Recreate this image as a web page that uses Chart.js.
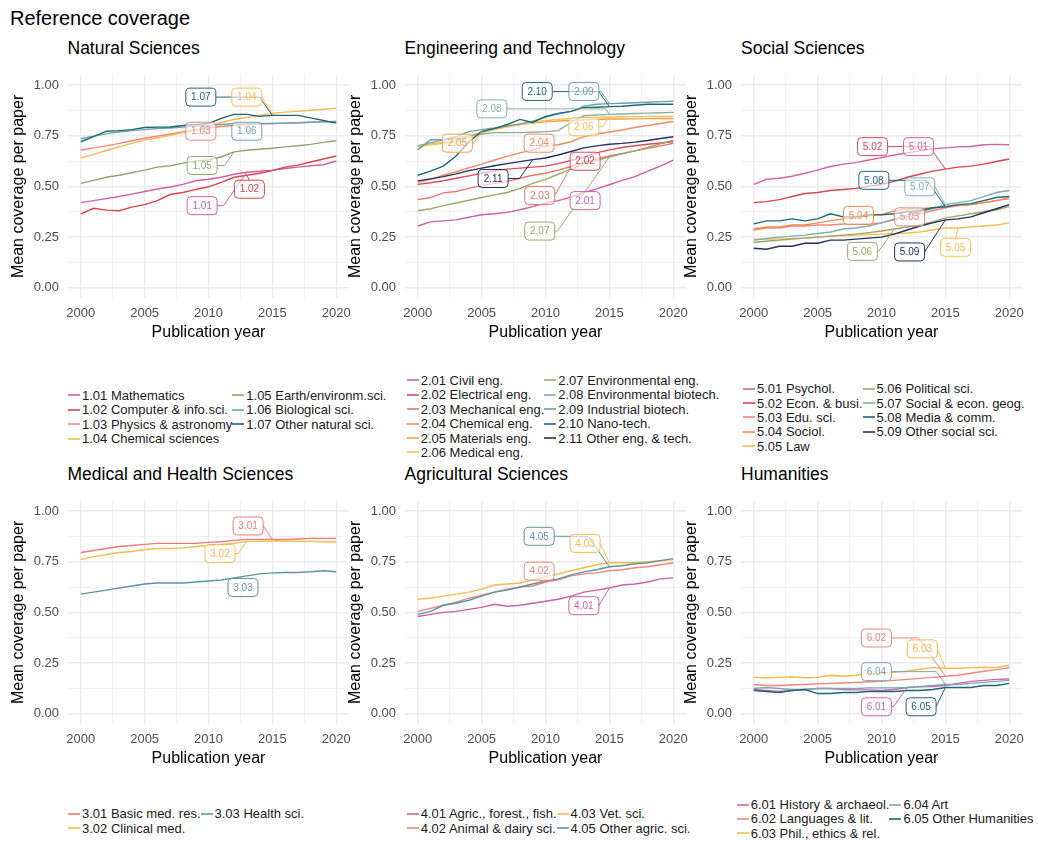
<!DOCTYPE html>
<html>
<head>
<meta charset="utf-8">
<script src="https://cdn.jsdelivr.net/npm/chart.js@4.4.1/dist/chart.umd.min.js"></script>
<style>
  body { margin: 0; background: #fff; width: 1038px; height: 842px; overflow: hidden; position: relative;
         font-family: "Liberation Sans", Arial, sans-serif; }
  .abs { position: absolute; }
  #mainTitle { left: 10px; top: 8px; font-size: 20px; line-height: 20px; color: #000; }
  .ptitle { font-size: 17.5px; line-height: 18px; color: #000; white-space: nowrap; }
  .legend { display: grid; grid-auto-flow: column; font-size: 13px; color: #1a1a1a; }
  .legend div { display: flex; align-items: center; white-space: nowrap; height: 14.4px; }
  .legend svg { display: block; margin-right: 2px; }
  canvas { position: absolute; }
</style>
</head>
<body>
<div id="mainTitle" class="abs">Reference coverage</div>
<script>
// ---- shared axis data ----
const years = [2000, 2001, 2002, 2003, 2004, 2005, 2006, 2007, 2008, 2009, 2010,
               2011, 2012, 2013, 2014, 2015, 2016, 2017, 2018, 2019, 2020];
const xTicks = [2000, 2002.5, 2005, 2007.5, 2010, 2012.5, 2015, 2017.5, 2020];
const yTicks = [0, 0.125, 0.25, 0.375, 0.5, 0.625, 0.75, 0.875, 1];

// ---- Natural Sciences ----
const natNames = ['1.01 Mathematics', '1.02 Computer & info.sci.', '1.03 Physics & astronomy',
                  '1.04 Chemical sciences', '1.05 Earth/environm.sci.', '1.06 Biological sci.', '1.07 Other natural sci.'];
const nat101 = [0.420,0.430,0.440,0.450,0.462,0.475,0.487,0.497,0.510,0.528,0.535,0.545,0.560,0.570,0.575,0.580,0.588,0.595,0.602,0.607,0.625];
const nat102 = [0.365,0.392,0.383,0.380,0.398,0.410,0.430,0.460,0.470,0.485,0.498,0.520,0.545,0.555,0.565,0.578,0.595,0.605,0.620,0.635,0.650];
const nat103 = [0.678,0.690,0.700,0.712,0.725,0.737,0.748,0.758,0.768,0.778,0.788,0.795,0.800,0.805,0.808,0.810,0.812,0.814,0.816,0.818,0.820];
const nat104 = [0.640,0.658,0.677,0.695,0.712,0.728,0.740,0.752,0.765,0.780,0.795,0.815,0.830,0.840,0.850,0.860,0.866,0.870,0.875,0.880,0.885];
const nat105 = [0.515,0.530,0.545,0.555,0.567,0.580,0.595,0.602,0.615,0.625,0.630,0.645,0.670,0.678,0.683,0.688,0.695,0.700,0.707,0.717,0.725];
const nat106 = [0.735,0.748,0.760,0.768,0.775,0.780,0.785,0.788,0.792,0.797,0.800,0.805,0.810,0.810,0.810,0.810,0.812,0.814,0.816,0.818,0.820];
const nat107 = [0.720,0.745,0.772,0.775,0.780,0.790,0.792,0.793,0.800,0.805,0.810,0.835,0.855,0.855,0.845,0.850,0.850,0.850,0.838,0.825,0.812];
const natColors = ['#cf5fa8', '#d9454f', '#f0857d', '#f8b94d', '#8ea66c', '#6ea3ad', '#1e6576'];
const natTags = [
  { idx: 6, at: [2009.4, 0.94], to: 2015 }, { idx: 3, at: [2013.0, 0.94], to: 2015 },
  { idx: 2, at: [2009.4, 0.772], to: 2010 }, { idx: 5, at: [2013.0, 0.772], to: 2014 },
  { idx: 4, at: [2009.5, 0.603], to: 2012 }, { idx: 1, at: [2013.2, 0.486], to: 2013 },
  { idx: 0, at: [2009.5, 0.405], to: 2013 }
];

// ---- Engineering and Technology ----
const engNames = ['2.01 Civil eng.', '2.02 Electrical eng.', '2.03 Mechanical eng.', '2.04 Chemical eng.',
                  '2.05 Materials eng.', '2.06 Medical eng.', '2.07 Environmental eng.', '2.08 Environmental biotech.',
                  '2.09 Industrial biotech.', '2.10 Nano-tech.', '2.11 Other eng. & tech.'];
const eng201 = [0.305,0.325,0.330,0.335,0.348,0.360,0.365,0.372,0.385,0.400,0.418,0.430,0.447,0.470,0.488,0.508,0.530,0.548,0.575,0.600,0.630];
const eng202 = [0.510,0.518,0.528,0.540,0.552,0.565,0.577,0.585,0.590,0.595,0.600,0.612,0.628,0.645,0.665,0.680,0.692,0.700,0.708,0.714,0.720];
const eng203 = [0.435,0.445,0.468,0.475,0.490,0.505,0.515,0.525,0.540,0.555,0.565,0.580,0.598,0.618,0.635,0.650,0.662,0.675,0.688,0.700,0.712];
const eng204 = [0.520,0.535,0.555,0.572,0.592,0.610,0.630,0.648,0.665,0.680,0.700,0.705,0.720,0.745,0.758,0.768,0.778,0.790,0.800,0.810,0.820];
const eng205 = [0.700,0.708,0.715,0.725,0.745,0.770,0.785,0.795,0.805,0.812,0.818,0.822,0.825,0.828,0.830,0.832,0.832,0.833,0.834,0.835,0.835];
const eng206 = [0.695,0.705,0.712,0.720,0.740,0.765,0.780,0.792,0.805,0.815,0.825,0.830,0.835,0.838,0.840,0.842,0.843,0.844,0.845,0.845,0.845];
const eng207 = [0.380,0.390,0.405,0.418,0.432,0.445,0.458,0.470,0.490,0.515,0.535,0.560,0.585,0.610,0.628,0.645,0.660,0.675,0.692,0.710,0.728];
const eng208 = [0.700,0.715,0.728,0.738,0.750,0.758,0.765,0.765,0.765,0.767,0.770,0.775,0.815,0.848,0.852,0.855,0.857,0.859,0.861,0.863,0.865];
const eng209 = [0.680,0.730,0.730,0.745,0.770,0.780,0.788,0.798,0.808,0.822,0.840,0.858,0.870,0.895,0.905,0.908,0.910,0.912,0.915,0.918,0.920];
const eng210 = [0.555,0.575,0.600,0.650,0.720,0.770,0.785,0.805,0.830,0.815,0.845,0.860,0.870,0.888,0.890,0.893,0.895,0.900,0.905,0.905,0.905];
const eng211 = [0.527,0.537,0.548,0.562,0.578,0.590,0.602,0.612,0.622,0.632,0.640,0.655,0.672,0.690,0.700,0.708,0.712,0.718,0.726,0.736,0.745];
const engColors = ['#cf5fa8', '#dc4a5a', '#ec7371', '#f28a62', '#f5a042', '#f8c153',
                   '#9aa968', '#88b0a0', '#6aa0ab', '#1f6677', '#233060'];
const engTags = [
  { idx: 9, at: [2009.35, 0.968], to: 2015 }, { idx: 8, at: [2013.0, 0.968], to: 2015 },
  { idx: 7, at: [2005.8, 0.882], to: 2015 }, { idx: 5, at: [2013.0, 0.794], to: 2015 },
  { idx: 4, at: [2003.1, 0.713], to: 2005 }, { idx: 3, at: [2009.5, 0.713], to: 2010 },
  { idx: 10, at: [2005.9, 0.539], to: 2009 }, { idx: 1, at: [2013.1, 0.624], to: 2013 },
  { idx: 2, at: [2009.55, 0.455], to: 2012 }, { idx: 0, at: [2013.1, 0.43], to: 2013 },
  { idx: 6, at: [2009.55, 0.28], to: 2015 }
];

// ---- Social Sciences ----
const socNames = ['5.01 Psychol.', '5.02 Econ. & busi.', '5.03 Edu. sci.', '5.04 Sociol.', '5.05 Law',
                  '5.06 Political sci.', '5.07 Social & econ. geog.', '5.08 Media & comm.', '5.09 Other social sci.'];
const soc501 = [0.510,0.535,0.540,0.550,0.565,0.580,0.598,0.610,0.617,0.630,0.642,0.655,0.665,0.675,0.685,0.690,0.695,0.697,0.705,0.707,0.705];
const soc502 = [0.420,0.425,0.435,0.450,0.465,0.470,0.480,0.485,0.490,0.500,0.510,0.525,0.545,0.560,0.575,0.585,0.595,0.600,0.610,0.623,0.635];
const soc503 = [0.285,0.295,0.295,0.305,0.305,0.310,0.310,0.315,0.315,0.315,0.320,0.335,0.350,0.365,0.380,0.395,0.405,0.410,0.420,0.430,0.445];
const soc504 = [0.290,0.300,0.300,0.310,0.310,0.320,0.330,0.340,0.350,0.355,0.360,0.380,0.388,0.390,0.395,0.400,0.405,0.410,0.420,0.430,0.440];
const soc505 = [0.240,0.240,0.240,0.243,0.245,0.250,0.255,0.257,0.260,0.263,0.265,0.268,0.270,0.275,0.285,0.295,0.295,0.300,0.305,0.310,0.320];
const soc506 = [0.225,0.230,0.235,0.240,0.245,0.250,0.255,0.260,0.265,0.272,0.280,0.290,0.300,0.310,0.325,0.345,0.355,0.365,0.375,0.385,0.400];
const soc507 = [0.235,0.243,0.250,0.255,0.260,0.268,0.275,0.290,0.295,0.305,0.320,0.340,0.360,0.375,0.390,0.410,0.420,0.430,0.450,0.470,0.480];
const soc508 = [0.315,0.330,0.330,0.340,0.330,0.340,0.365,0.350,0.350,0.360,0.360,0.365,0.375,0.380,0.395,0.400,0.410,0.415,0.430,0.445,0.450];
const soc509 = [0.195,0.190,0.205,0.205,0.220,0.220,0.235,0.235,0.240,0.245,0.250,0.265,0.285,0.305,0.320,0.335,0.340,0.350,0.370,0.390,0.410];
const socColors = ['#d062aa', '#da4450', '#f18583', '#f38c4b', '#f8bd4f', '#95a86c', '#7eaeb0', '#1f6677', '#23305e'];
const socTags = [
  { idx: 1, at: [2009.3, 0.696], to: 2015 }, { idx: 0, at: [2012.9, 0.696], to: 2013 },
  { idx: 7, at: [2009.4, 0.53], to: 2015 }, { idx: 6, at: [2013.0, 0.498], to: 2015 },
  { idx: 3, at: [2008.2, 0.357], to: 2010 }, { idx: 2, at: [2012.2, 0.35], to: 2012 },
  { idx: 5, at: [2008.5, 0.18], to: 2011 }, { idx: 8, at: [2012.2, 0.177], to: 2015 },
  { idx: 4, at: [2015.8, 0.20], to: 2016 }
];

// ---- Medical and Health Sciences ----
const medNames = ['3.01 Basic med. res.', '3.02 Clinical med.', '3.03 Health sci.'];
const med301 = [0.795,0.805,0.815,0.825,0.830,0.835,0.840,0.840,0.840,0.840,0.845,0.848,0.855,0.860,0.860,0.860,0.860,0.862,0.865,0.865,0.865];
const med302 = [0.760,0.775,0.785,0.795,0.800,0.810,0.815,0.815,0.818,0.825,0.830,0.835,0.840,0.850,0.850,0.852,0.852,0.850,0.850,0.848,0.847];
const med303 = [0.590,0.600,0.610,0.620,0.630,0.640,0.645,0.645,0.645,0.650,0.655,0.660,0.670,0.680,0.690,0.695,0.697,0.697,0.700,0.705,0.700];
const medColors = ['#ee7a78', '#f8b94d', '#5c95a0'];
const medTags = [
  { idx: 0, at: [2013.1, 0.926], to: 2015 }, { idx: 1, at: [2010.9, 0.79], to: 2013 },
  { idx: 2, at: [2012.7, 0.623], to: 2012 }
];

// ---- Agricultural Sciences ----
const agrNames = ['4.01 Agric., forest., fish.', '4.02 Animal & dairy sci.', '4.03 Vet. sci.', '4.05 Other agric. sci.'];
const agr401 = [0.480,0.490,0.500,0.505,0.515,0.525,0.540,0.530,0.535,0.545,0.555,0.565,0.580,0.600,0.610,0.620,0.635,0.640,0.650,0.665,0.670];
const agr402 = [0.505,0.520,0.535,0.550,0.570,0.585,0.600,0.615,0.625,0.630,0.650,0.660,0.680,0.690,0.695,0.705,0.710,0.720,0.725,0.735,0.745];
const agr403 = [0.565,0.570,0.580,0.590,0.600,0.615,0.635,0.640,0.645,0.660,0.675,0.690,0.705,0.720,0.735,0.745,0.745,0.745,0.750,0.755,0.760];
const agr405 = [0.490,0.505,0.535,0.545,0.560,0.580,0.600,0.610,0.625,0.640,0.655,0.665,0.685,0.700,0.710,0.725,0.730,0.740,0.745,0.755,0.765];
const agrColors = ['#cf5fa8', '#f0857d', '#f8b94d', '#5c95a0'];
const agrTags = [
  { idx: 3, at: [2009.5, 0.875], to: 2015 }, { idx: 2, at: [2013.1, 0.84], to: 2015 },
  { idx: 1, at: [2009.5, 0.703], to: 2010 }, { idx: 0, at: [2013.0, 0.533], to: 2015 }
];

// ---- Humanities ----
const humNames = ['6.01 History & archaeol.', '6.02 Languages & lit.', '6.03 Phil., ethics & rel.', '6.04 Art', '6.05 Other Humanities'];
const hum601 = [0.120,0.115,0.110,0.115,0.120,0.125,0.125,0.120,0.118,0.118,0.115,0.120,0.130,0.133,0.135,0.140,0.150,0.160,0.165,0.170,0.172];
const hum602 = [0.145,0.140,0.140,0.142,0.145,0.148,0.150,0.152,0.155,0.158,0.160,0.165,0.170,0.175,0.180,0.185,0.190,0.200,0.210,0.218,0.228];
const hum603 = [0.180,0.178,0.180,0.183,0.178,0.180,0.190,0.185,0.190,0.200,0.200,0.205,0.210,0.220,0.228,0.225,0.225,0.228,0.230,0.228,0.240];
const hum604 = [0.125,0.130,0.125,0.120,0.120,0.125,0.125,0.125,0.125,0.128,0.128,0.128,0.130,0.135,0.140,0.145,0.145,0.150,0.155,0.160,0.165];
const hum605 = [0.115,0.110,0.105,0.115,0.120,0.100,0.100,0.105,0.105,0.110,0.110,0.110,0.115,0.115,0.120,0.130,0.130,0.130,0.140,0.140,0.150];
const humColors = ['#d062aa', '#f0857d', '#f8b94d', '#7aa8b0', '#1e6576'];
const humTags = [
  { idx: 1, at: [2009.6, 0.374], to: 2015 }, { idx: 2, at: [2013.2, 0.32], to: 2015 },
  { idx: 3, at: [2009.6, 0.208], to: 2015 }, { idx: 0, at: [2009.6, 0.035], to: 2012 },
  { idx: 4, at: [2013.1, 0.035], to: 2015 }
];

// ---- layout ----
const FONT = 'Liberation Sans';
const PLOT_W = 281, PLOT_H = 228, AX_Y = 60, AX_X = 50, PAD_T = 12, PAD_R = 10;

const panels = [
  { title: 'Natural Sciences', names: natNames, series: [nat101, nat102, nat103, nat104, nat105, nat106, nat107],
    colors: natColors, tags: natTags, px: 67.5, py: 70, lx: 68, ly: 417, rows: 4 },
  { title: 'Engineering and Technology', names: engNames,
    series: [eng201, eng202, eng203, eng204, eng205, eng206, eng207, eng208, eng209, eng210, eng211],
    colors: engColors, tags: engTags, px: 404.5, py: 70, lx: 406.7, ly: 416.5, rows: 6 },
  { title: 'Social Sciences', names: socNames,
    series: [soc501, soc502, soc503, soc504, soc505, soc506, soc507, soc508, soc509],
    colors: socColors, tags: socTags, px: 741, py: 70, lx: 743, ly: 417.5, rows: 5 },
  { title: 'Medical and Health Sciences', names: medNames, series: [med301, med302, med303],
    colors: medColors, tags: medTags, px: 67.5, py: 495.5, lx: 68, ly: 821, rows: 2 },
  { title: 'Agricultural Sciences', names: agrNames, series: [agr401, agr402, agr403, agr405],
    colors: agrColors, tags: agrTags, px: 404.5, py: 495.5, lx: 406.7, ly: 821, rows: 2 },
  { title: 'Humanities', names: humNames, series: [hum601, hum602, hum603, hum604, hum605],
    colors: humColors, tags: humTags, px: 741, py: 495.5, lx: 736.7, ly: 819, rows: 3 }
];

const isMajorX = v => Math.abs(v % 5) < 1e-9;
const isMajorY = v => Math.abs(v * 4 - Math.round(v * 4)) < 1e-9;

function boxPath(ctx, x, y, w, h, r) {
  ctx.beginPath();
  ctx.moveTo(x + r, y);
  ctx.lineTo(x + w - r, y); ctx.arcTo(x + w, y, x + w, y + r, r);
  ctx.lineTo(x + w, y + h - r); ctx.arcTo(x + w, y + h, x + w - r, y + h, r);
  ctx.lineTo(x + r, y + h); ctx.arcTo(x, y + h, x, y + h - r, r);
  ctx.lineTo(x, y + r); ctx.arcTo(x, y, x + r, y, r);
  ctx.closePath();
}

// boxed labels with elbow leaders, in the spirit of ggrepel
const tagPlugin = {
  id: 'tags',
  afterDatasetsDraw(chart, args, opts) {
    const { ctx, scales: { x, y } } = chart;
    const w = 30, h = 18;
    const items = (opts.items || []).map(t => {
      const ds = chart.data.datasets[t.idx];
      const i = years.indexOf(t.to);
      return {
        code: ds.label.split(' ')[0], color: ds.borderColor,
        tx: x.getPixelForValue(t.to), ty: y.getPixelForValue(ds.data[i].y),
        cx: x.getPixelForValue(t.at[0]), cy: y.getPixelForValue(t.at[1])
      };
    });
    ctx.save();
    // segments first
    items.forEach(it => {
      const dx = it.tx - it.cx, dy = it.ty - it.cy;
      if (Math.abs(dx) <= w / 2 && Math.abs(dy) <= h / 2) return;
      ctx.strokeStyle = it.color;
      ctx.lineWidth = 1;
      ctx.beginPath();
      if (Math.abs(dx) > w / 2) {
        const s = Math.sign(dx);
        const sx = it.cx + s * w / 2;
        const ex = it.tx - s * Math.min(Math.abs(dy) * 0.7, Math.abs(it.tx - sx));
        ctx.moveTo(sx, it.cy); ctx.lineTo(ex, it.cy); ctx.lineTo(it.tx, it.ty);
      } else {
        ctx.moveTo(it.cx, it.cy + Math.sign(dy) * h / 2); ctx.lineTo(it.tx, it.ty);
      }
      ctx.stroke();
    });
    // then the boxes
    items.forEach(it => {
      boxPath(ctx, it.cx - w / 2, it.cy - h / 2, w, h, 4);
      ctx.fillStyle = 'rgba(255,255,255,0.6)';
      ctx.fill();
      ctx.strokeStyle = it.color;
      ctx.lineWidth = 1;
      ctx.stroke();
      ctx.fillStyle = it.color;
      ctx.font = '10px "' + FONT + '", Arial';
      ctx.textAlign = 'center';
      ctx.textBaseline = 'middle';
      ctx.fillText(it.code, it.cx, it.cy + 0.5);
    });
    ctx.restore();
  }
};

panels.forEach((p, k) => {
  // panel title
  const t = document.createElement('div');
  t.className = 'abs ptitle';
  t.style.left = p.px + 'px';
  t.style.top = (p.py < 200 ? 39 : 465) + 'px';
  t.textContent = p.title;
  document.body.appendChild(t);

  // canvas
  const cv = document.createElement('canvas');
  const cw = AX_Y + PLOT_W + PAD_R, ch = PAD_T + PLOT_H + AX_X;
  cv.width = cw; cv.height = ch;
  cv.style.left = Math.round(p.px - AX_Y) + 'px';
  cv.style.top = Math.round(p.py - PAD_T) + 'px';
  cv.style.width = cw + 'px'; cv.style.height = ch + 'px';
  document.body.appendChild(cv);

  const n = p.series.length;
  new Chart(cv.getContext('2d'), {
    type: 'line',
    data: {
      datasets: p.series.map((vals, i) => ({
        label: p.names[i],
        data: years.map((yr, j) => ({ x: yr, y: vals[j] })),
        borderColor: p.colors[i],
        backgroundColor: p.colors[i],
        borderWidth: 1.4,
        pointRadius: 0,
        tension: 0,
        order: n - i
      }))
    },
    options: {
      responsive: false,
      animation: false,
      events: [],
      layout: { padding: { top: PAD_T, right: PAD_R, left: 0, bottom: 0 } },
      plugins: { legend: { display: false }, tooltip: { enabled: false }, tags: { items: p.tags } },
      scales: {
        x: {
          type: 'linear', min: 1999, max: 2021,
          afterBuildTicks: s => { s.ticks = xTicks.map(v => ({ value: v })); },
          afterFit: s => { s.height = AX_X; },
          border: { display: false },
          grid: { drawTicks: false, color: '#ebebeb', lineWidth: c => (c.tick && isMajorX(c.tick.value)) ? 1.4 : 0.7 },
          ticks: { autoSkip: false, maxRotation: 0, padding: 7.5, color: '#4d4d4d', font: { family: FONT, size: 13 },
                   callback: v => isMajorX(v) ? String(v) : '' },
          title: { display: true, text: 'Publication year', color: '#000', font: { family: FONT, size: 16 },
                   padding: { top: 0, bottom: 6 } }
        },
        y: {
          min: -0.05, max: 1.05,
          afterBuildTicks: s => { s.ticks = yTicks.map(v => ({ value: v })); },
          afterFit: s => { s.width = AX_Y; },
          border: { display: false },
          grid: { drawTicks: false, color: '#ebebeb', lineWidth: c => (c.tick && isMajorY(c.tick.value)) ? 1.4 : 0.7 },
          ticks: { padding: 9, color: '#4d4d4d', font: { family: FONT, size: 13 },
                   callback: v => isMajorY(v) ? v.toFixed(2) : '' },
          title: { display: true, text: 'Mean coverage per paper', color: '#000', font: { family: FONT, size: 16 },
                   padding: { top: 1, bottom: 0 } }
        }
      }
    },
    plugins: [tagPlugin]
  });

  // legend below the panel, filled column by column
  const lg = document.createElement('div');
  lg.className = 'abs legend';
  lg.style.gridTemplateRows = 'repeat(' + p.rows + ', 14.4px)';
  lg.style.left = p.lx + 'px';
  lg.style.top = (p.ly - p.rows * 14.4 / 2) + 'px';
  const svgNS = 'http://www.w3.org/2000/svg';
  p.names.forEach((nm, i) => {
    const it = document.createElement('div');
    const key = document.createElementNS(svgNS, 'svg');
    key.setAttribute('width', '12'); key.setAttribute('height', '6');
    const ln = document.createElementNS(svgNS, 'line');
    ln.setAttribute('x1', '0'); ln.setAttribute('x2', '12');
    ln.setAttribute('y1', '3'); ln.setAttribute('y2', '3');
    ln.setAttribute('stroke', p.colors[i]); ln.setAttribute('stroke-width', '1.6');
    key.appendChild(ln);
    it.appendChild(key);
    it.appendChild(document.createTextNode(nm));
    lg.appendChild(it);
  });
  document.body.appendChild(lg);
});
</script>
</body>
</html>
